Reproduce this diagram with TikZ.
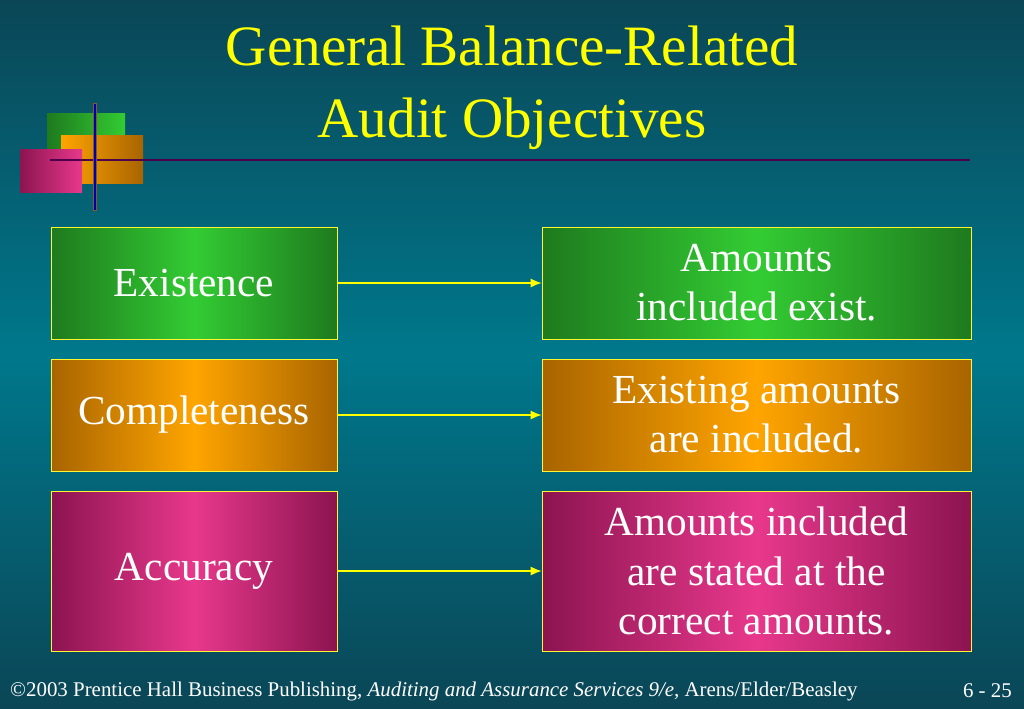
\documentclass[tikz,border=0pt]{standalone}
\usepackage{fontspec}
\setmainfont{Liberation Serif}
\usetikzlibrary{positioning,arrows.meta}
\definecolor{bgtop}{HTML}{0A4656}
\definecolor{bgmid}{HTML}{00788C}
\definecolor{bgbot}{HTML}{0A4656}
\definecolor{grnD}{HTML}{1E7A1E}
\definecolor{grnL}{HTML}{33CC33}
\definecolor{orgD}{HTML}{A86400}
\definecolor{orgL}{HTML}{FFA500}
\definecolor{pnkD}{HTML}{8C1450}
\definecolor{pnkL}{HTML}{E8388C}
\definecolor{ttl}{HTML}{FFFF00}
\tikzset
{
    objbox/.style = {rectangle, draw=yellow!80!white, align=center, text=white, font=\fontsize{23.5}{28}\selectfont, minimum width=5.72cm, minimum height=2.24cm, inner sep=0pt},
    descbox/.style = {objbox, minimum width=8.58cm},
    greenfill/.style = {left color=grnD, right color=grnD, middle color=grnL},
    orangefill/.style = {left color=orgD, right color=orgD, middle color=orgL},
    pinkfill/.style = {left color=pnkD, right color=pnkD, middle color=pnkL},
    arrow/.style = {draw=ttl, thick, -{Latex[length=2.2mm,width=1.8mm]}}
}
\begin{document}
\begin{tikzpicture}[x=0.02cm,y=-0.02cm]
	\useasboundingbox (0,0) rectangle (1024,708);
	\shade[top color=bgtop, bottom color=bgbot, middle color=bgmid] (0,0) rectangle (1024,708);

	% logo
	\shade[left color=grnD, right color=grnL] (47,113) rectangle (125,170);
	\shade[left color=orgL, right color=orgD] (61,135) rectangle (143,183);
	\shade[left color=pnkD, right color=pnkL] (20,149) rectangle (82,192);
	\draw[line width=1.6pt, draw=red!40!black] (50,160) -- (970,160);
	\draw[line width=0.9pt, draw=violet!60!black] (50,160) -- (970,160);
	\draw[line width=2pt, draw=brown!70!black] (95,103) -- (95,211);
	\draw[line width=1.2pt, draw=blue!70!black] (95,104) -- (95,210);

	\node (title) [text=ttl, align=center, font=\fontsize{32.5}{41}\selectfont] at (512,88) {General Balance-Related\\Audit Objectives};

	\node (exi) [objbox, greenfill] at (194,283) {Existence};
	\node (com) [objbox, orangefill] at (194,415) {Completeness};
	\node (acc) [objbox, pinkfill, minimum height=3.2cm] at (194,571) {Accuracy};
	\node (exiD) [descbox, greenfill] at (756.5,283) {Amounts\\included exist.};
	\node (comD) [descbox, orangefill] at (756.5,415) {Existing amounts\\are included.};
	\node (accD) [descbox, pinkfill, minimum height=3.2cm] at (756.5,571) {Amounts included\\are stated at the\\correct amounts.};

	\draw [arrow] (exi) -- (exiD);
	\draw [arrow] (com) -- (comD);
	\draw [arrow] (acc) -- (accD);

	\node (foot) [text=white, anchor=west, font=\fontsize{11.9}{14}\selectfont] at (4,691) {\textcopyright2003 Prentice Hall Business Publishing, \textit{Auditing and Assurance Services 9/e,} Arens/Elder/Beasley};
	\node (page) [text=white, anchor=east, font=\fontsize{11.9}{14}\selectfont] at (1018,691) {6 - 25};
\end{tikzpicture}
\end{document}
